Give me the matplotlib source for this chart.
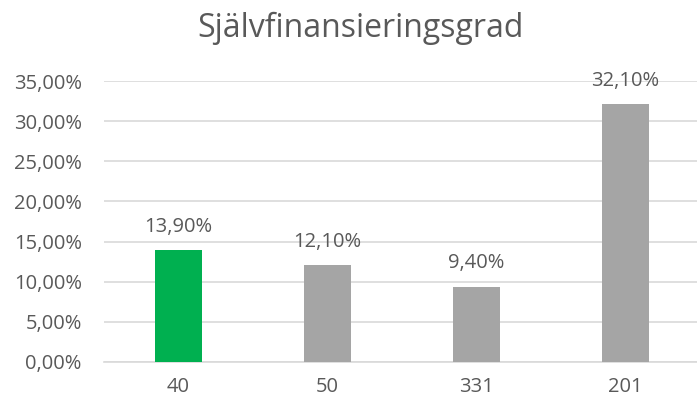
import matplotlib
matplotlib.use('Agg')
import matplotlib.pyplot as plt
from matplotlib.ticker import FuncFormatter

categories = ['40', '50', '331', '201']
values = [0.139, 0.121, 0.094, 0.321]
value_labels = ['13,90%', '12,10%', '9,40%', '32,10%']
bar_colors = ['#00B050', '#A5A5A5', '#A5A5A5', '#A5A5A5']
yticks = [0.0, 0.05, 0.10, 0.15, 0.20, 0.25, 0.30, 0.35]

plt.rcParams['font.family'] = ['Open Sans', 'DejaVu Sans']
txt = '#595959'

fig = plt.figure(figsize=(6.97, 4.01), dpi=100)
# plot area: x 104..697 px, y 81..362 px
ax = fig.add_axes([104 / 697, 1 - 362 / 401, 593 / 697, 281 / 401])

x = range(len(categories))
ax.bar(x, values, width=0.315, color=bar_colors, zorder=3)
for i, v in enumerate(values):
    ax.annotate(value_labels[i], (i, v), xytext=(0, 13), textcoords='offset points',
                ha='center', va='baseline', fontsize=14.5, color=txt)

ax.set_xlim(-0.5, 3.48)
ax.set_ylim(0, 0.35)
ax.set_yticks(yticks)
ax.yaxis.set_major_formatter(FuncFormatter(lambda v, p: ('%.2f%%' % (v * 100)).replace('.', ',')))
ax.set_xticks(list(x))
ax.set_xticklabels(categories)
ax.tick_params(length=0, labelsize=14.5, colors=txt)
ax.tick_params(axis='x', pad=11)
ax.tick_params(axis='y', pad=16)
ax.grid(axis='y', color='#D9D9D9', linewidth=1.2, zorder=0)
for s in ['top', 'right', 'left']:
    ax.spines[s].set_visible(False)
ax.spines['bottom'].set_color('#D9D9D9')
ax.spines['bottom'].set_linewidth(1.2)

fig.text(0.517, 1 - 37 / 401, 'Självfinansieringsgrad', ha='center', va='baseline',
         fontsize=23, color=txt)

fig.savefig('out.png', dpi=100)
